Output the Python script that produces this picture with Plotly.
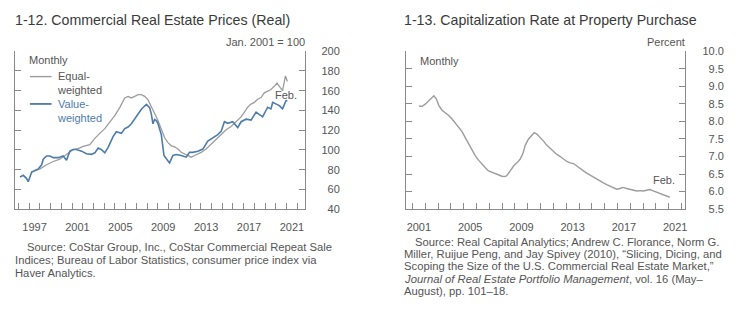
import plotly.graph_objects as go

W, H = 744, 324

# ---------------- data ----------------
# 1-12 Commercial real estate prices (real), Jan. 2001 = 100
ew_years = [1997.2, 1997.6, 1998.0, 1998.62, 1999.24, 1999.86, 2000.48, 2001.1, 2001.56, 2002.03,
            2002.65, 2003.12, 2003.58, 2004.05, 2004.51, 2004.98, 2005.44, 2005.91, 2006.22, 2006.53,
            2006.84, 2007.15, 2007.46, 2007.77, 2008.07, 2008.39, 2008.7, 2009.0, 2009.32, 2009.63,
            2009.94, 2010.26, 2010.56, 2010.87, 2011.18, 2011.49, 2011.8, 2012.11, 2012.42, 2012.73,
            2013.04, 2013.5, 2013.97, 2014.44, 2014.9, 2015.37, 2015.83, 2016.3, 2016.76, 2017.07,
            2017.38, 2017.69, 2018.0, 2018.31, 2018.62, 2018.93, 2019.24, 2019.55, 2019.86, 2020.11,
            2020.33, 2020.63, 2020.9, 2021.08]
ew_values = [77.5, 79.0, 80.8, 85.0, 88.3, 90.6, 95.5, 100.4, 101.4, 103.7,
             105.3, 111.8, 116.8, 121.6, 128.2, 134.7, 142.9, 152.7, 154.3, 152.7,
             154.3, 156.0, 156.0, 154.3, 151.0, 144.5, 137.0, 130.2, 121.4, 112.3,
             107.4, 104.2, 103.2, 100.9, 97.6, 96.0, 94.4, 92.7, 94.4, 96.0,
             97.6, 100.9, 105.8, 110.7, 115.6, 120.5, 123.7, 128.6, 133.5, 138.4,
             143.3, 146.5, 148.2, 151.4, 153.1, 157.9, 159.6, 161.2, 164.5, 167.7,
             164.5, 160.0, 175.0, 169.4]

vw_years = [1996.14, 1996.45, 1996.76, 1996.91, 1997.23, 1997.53, 1997.84, 1998.16, 1998.31, 1998.62,
            1998.93, 1999.24, 1999.71, 2000.17, 2000.48, 2000.79, 2001.1, 2001.41, 2001.88, 2002.34,
            2002.81, 2003.12, 2003.43, 2003.74, 2004.05, 2004.36, 2004.82, 2005.13, 2005.6, 2005.91,
            2006.22, 2006.53, 2006.84, 2007.15, 2007.46, 2007.77, 2007.93, 2008.23, 2008.39, 2008.54,
            2008.7, 2008.86, 2009.0, 2009.32, 2009.57, 2009.79, 2010.09, 2010.4, 2010.72, 2011.18,
            2011.65, 2011.95, 2012.26, 2012.73, 2013.19, 2013.66, 2014.12, 2014.59, 2014.9, 2015.21,
            2015.52, 2015.98, 2016.45, 2016.76, 2017.23, 2017.69, 2018.16, 2018.47, 2018.77, 2019.24,
            2019.55, 2019.71, 2020.02, 2020.33, 2020.63, 2020.95, 2021.08]
vw_values = [72.7, 74.3, 71.0, 67.8, 77.6, 79.2, 80.8, 85.0, 90.6, 93.9,
             93.9, 92.2, 92.2, 93.9, 89.7, 98.8, 100.4, 100.4, 98.8, 96.2,
             95.5, 97.1, 102.0, 100.4, 97.1, 102.7, 113.5, 118.4, 116.8, 121.6,
             123.3, 126.5, 131.4, 136.3, 141.2, 144.5, 146.1, 142.9, 136.3, 126.5,
             131.0, 129.8, 127.0, 115.6, 94.4, 91.1, 86.9, 94.4, 95.4, 94.4,
             92.7, 97.6, 97.6, 98.6, 100.9, 109.0, 112.3, 115.6, 118.8, 128.6,
             127.0, 128.6, 122.7, 128.6, 131.2, 130.2, 138.4, 135.8, 133.5, 143.3,
             141.6, 148.2, 146.5, 144.9, 141.6, 149.8, 150.0]

# 1-13 Capitalization rate at property purchase, percent
cap_years = [2001.5, 2001.76, 2002.02, 2002.28, 2002.54, 2002.67, 2002.87, 2003.05, 2003.31, 2003.57,
             2003.83, 2004.09, 2004.35, 2004.61, 2004.87, 2005.13, 2005.39, 2005.65, 2005.91, 2006.17,
             2006.43, 2006.69, 2006.94, 2007.2, 2007.46, 2007.72, 2007.98, 2008.24, 2008.37, 2008.63,
             2008.89, 2009.15, 2009.41, 2009.62, 2009.8, 2010.06, 2010.32, 2010.5, 2010.71, 2010.97,
             2011.23, 2011.49, 2011.75, 2012.01, 2012.27, 2012.53, 2012.79, 2013.05, 2013.31, 2013.57,
             2013.83, 2014.08, 2014.34, 2014.6, 2014.86, 2015.12, 2015.38, 2015.64, 2015.9, 2016.16,
             2016.42, 2016.68, 2016.94, 2017.2, 2017.41, 2017.72, 2017.98, 2018.24, 2018.5, 2018.76,
             2019.01, 2019.27, 2019.53, 2019.79, 2020.05, 2020.31, 2020.57, 2020.83, 2021.08]
cap_values = [8.44, 8.43, 8.50, 8.59, 8.68, 8.73, 8.64, 8.46, 8.32, 8.25,
              8.17, 8.07, 7.96, 7.82, 7.71, 7.53, 7.35, 7.18, 7.02, 6.89,
              6.77, 6.68, 6.59, 6.55, 6.50, 6.46, 6.44, 6.43, 6.46, 6.59,
              6.73, 6.82, 6.93, 7.09, 7.32, 7.50, 7.59, 7.68, 7.64, 7.55,
              7.44, 7.32, 7.23, 7.14, 7.06, 7.00, 6.93, 6.86, 6.82, 6.80,
              6.73, 6.65, 6.59, 6.53, 6.47, 6.41, 6.35, 6.29, 6.25, 6.20,
              6.15, 6.11, 6.07, 6.09, 6.12, 6.09, 6.07, 6.05, 6.02, 6.03,
              6.02, 6.04, 6.06, 6.02, 5.98, 5.95, 5.91, 5.86, 5.84]

left_year_labels = [1997, 2001, 2005, 2009, 2013, 2017, 2021]
left_y_ticks = [40, 60, 80, 100, 120, 140, 160, 180, 200]
right_year_labels = [2001, 2005, 2009, 2013, 2017, 2021]
right_y_ticks = [5.5, 6.0, 6.5, 7.0, 7.5, 8.0, 8.5, 9.0, 9.5, 10.0]

# ---------------- styling ----------------
FONT = "Liberation Sans, Arial, sans-serif"
TXT = "#555555"
TITLE = "#3a3a3a"
AX = "#8a8a8a"
GRAY = "#9c9c9c"
BLUE = "#4d7bab"
NB = "\u00a0"


def pad(labels):
    n = max(len(s) for s in labels)
    return [NB * 2 * (n - len(s)) + s for s in labels]


def px(x):
    return x / W


def py(y):
    return 1 - y / H


fig = go.Figure()
fig.add_trace(go.Scatter(x=ew_years, y=ew_values, mode="lines", name="Equal-weighted",
                         line=dict(color=GRAY, width=1.3), xaxis="x", yaxis="y"))
fig.add_trace(go.Scatter(x=vw_years, y=vw_values, mode="lines", name="Value-weighted",
                         line=dict(color=BLUE, width=1.6), xaxis="x", yaxis="y"))
fig.add_trace(go.Scatter(x=cap_years, y=cap_values, mode="lines", name="Cap rate",
                         line=dict(color=GRAY, width=1.4), xaxis="x2", yaxis="y2"))

common = dict(showline=True, linecolor=AX, linewidth=1.2, showgrid=False, zeroline=False,
              tickfont=dict(family=FONT, size=11, color=TXT), fixedrange=True)

ydom = [py(211), py(47)]

fig.update_layout(
    width=W, height=H, margin=dict(l=0, r=0, t=0, b=0),
    paper_bgcolor="white", plot_bgcolor="white", showlegend=False,
    xaxis=dict(domain=[px(15), px(306)], range=[1995.67, 2022.74], anchor="y",
               tickmode="array", tickvals=[y + 0.5 for y in left_year_labels],
               ticktext=[str(y) for y in left_year_labels], ticks="",
               minor=dict(tickmode="array", tickvals=list(range(1996, 2023)), ticks="inside",
                          ticklen=6, tickcolor=AX, tickwidth=1.1),
               ticklabelstandoff=8, **common),
    yaxis=dict(domain=ydom, range=[40, 200], anchor="x", side="right", mirror="ticks",
               ticks="inside", ticklen=6, tickcolor=AX, tickwidth=1.1,
               tickmode="array", tickvals=left_y_ticks,
               ticktext=pad([str(v) for v in left_y_ticks]),
               ticklabelstandoff=13, **common),
    xaxis2=dict(domain=[px(406.7), px(687)], range=[2000.465, 2022.28], anchor="y2",
                tickmode="array", tickvals=[y + 0.5 for y in right_year_labels],
                ticktext=[str(y) for y in right_year_labels], ticks="",
                minor=dict(tickmode="array", tickvals=list(range(2001, 2023)), ticks="inside",
                           ticklen=6, tickcolor=AX, tickwidth=1.1),
                ticklabelstandoff=8, **common),
    yaxis2=dict(domain=ydom, range=[5.5, 10.0], anchor="x2", side="right", mirror="ticks",
                ticks="inside", ticklen=6, tickcolor=AX, tickwidth=1.1,
                tickmode="array", tickvals=right_y_ticks,
                ticktext=pad([f"{v:.1f}" for v in right_y_ticks]),
                ticklabelstandoff=14, **common),
)


def ann(text, x, y, size=11, color=TXT, xanchor="left", yanchor="middle", align="left"):
    fig.add_annotation(text=text, x=px(x), y=py(y), xref="paper", yref="paper",
                       xanchor=xanchor, yanchor=yanchor, align=align, showarrow=False,
                       font=dict(family=FONT, size=size, color=color), borderpad=0)


# titles and units
ann("1-12. Commercial Real Estate Prices (Real)", 14, 15, size=14.2, color=TITLE)
ann("1-13. Capitalization Rate at Property Purchase", 404, 15, size=14.2, color=TITLE)
ann("Jan. 2001 = 100", 307, 37, xanchor="right")
ann("Percent", 688, 37, xanchor="right")

# in-plot labels
ann("Monthly", 28, 56)
ann("Monthly", 420, 57)
ann("Equal-<br>weighted", 56.5, 80.2, color=TXT)
ann("Value-<br>weighted", 56.5, 108.8, color=BLUE)
ann("Feb.", 287, 92, xanchor="center")
ann("Feb.", 666, 181, xanchor="center")

# legend keys
fig.add_shape(type="line", xref="paper", yref="paper", x0=px(30), x1=px(51.7), y0=py(73.3), y1=py(73.3),
              line=dict(color=GRAY, width=1.4))
fig.add_shape(type="line", xref="paper", yref="paper", x0=px(30), x1=px(51.7), y0=py(101.7), y1=py(101.7),
              line=dict(color=BLUE, width=1.8))

# sources
left_src = [
    (26, 250, "Source: CoStar Group, Inc., CoStar Commercial Repeat Sale"),
    (14, 264, "Indices; Bureau of Labor Statistics, consumer price index via"),
    (14, 277, "Haver Analytics."),
]
right_src = [
    (415, 245.5, "Source: Real Capital Analytics; Andrew C. Florance, Norm G."),
    (404, 258, "Miller, Ruijue Peng, and Jay Spivey (2010), \u201cSlicing, Dicing, and"),
    (404, 270.5, "Scoping the Size of the U.S. Commercial Real Estate Market,\u201d"),
    (404, 283, "<i>Journal of Real Estate Portfolio Management</i>, vol. 16 (May\u2013"),
    (404, 295.5, "August), pp. 101\u201318."),
]
for x, y, t in left_src + right_src:
    ann(t, x, y, size=11.25)

fig.write_html("out.html")
